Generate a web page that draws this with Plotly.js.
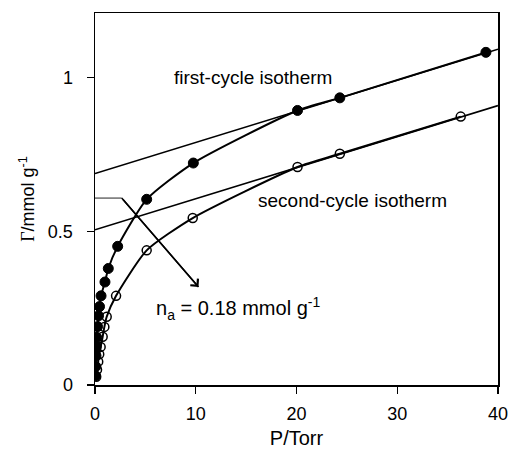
<!DOCTYPE html>
<html>
<head>
<meta charset="utf-8">
<script src="https://cdn.plot.ly/plotly-3.0.1.min.js"></script>
<style>html,body{margin:0;padding:0;background:#fff;}#chart{width:509px;height:452px;}</style>
</head>
<body>
<div id="chart"></div>
<script>
// First-cycle isotherm (filled circles)
var firstP = [0.05, 0.08, 0.1, 0.13, 0.17, 0.25, 0.35, 0.45, 0.6, 0.99, 1.32, 2.25, 5.13, 9.76, 20.1, 24.3, 38.8];
var firstG = [0.03, 0.06, 0.095, 0.125, 0.155, 0.19, 0.225, 0.255, 0.29, 0.335, 0.379, 0.451, 0.604, 0.722, 0.893, 0.934, 1.082];
// Second-cycle isotherm (open circles)
var secondP = [0.12, 0.2, 0.32, 0.42, 0.56, 0.76, 0.93, 1.16, 2.09, 5.13, 9.7, 20.1, 24.3, 36.3];
var secondG = [0.027, 0.05, 0.076, 0.1, 0.124, 0.157, 0.189, 0.222, 0.29, 0.438, 0.543, 0.709, 0.752, 0.873];
// Linear fits of the high-pressure region [first, second]
var fitIntercepts = [0.688, 0.505];
var fitSlopes = [0.0101, 0.0101];
var fitRange = [0, 40];
// Bracket and arrow marking n_a
var bracketP = [0, 2.65];
var bracketG = [0.608, 0.608];
var arrowTip = [10.27, 0.319];
var labelText = ['first-cycle isotherm', 'second-cycle isotherm', 'n<sub>a</sub> = 0.18 mmol g<sup>-1</sup>'];
var labelP = [15.7, 25.6, 14.2];
var labelG = [0.999, 0.600, 0.250];
var xTicks = [0, 10, 20, 30, 40];
var yTicks = [0, 0.5, 1];
var yTickText = ['0', '0.5', '1'];

var FONT = 'Liberation Sans, Arial, sans-serif';
var labelSizes = [19, 19, 20];

function fitLine(i) {
  return fitRange.map(function (p) { return fitIntercepts[i] + fitSlopes[i] * p; });
}

var traces = [
  {x: fitRange, y: fitLine(0), mode: 'lines', line: {color: '#000', width: 1.6}, hoverinfo: 'skip'},
  {x: fitRange, y: fitLine(1), mode: 'lines', line: {color: '#000', width: 1.6}, hoverinfo: 'skip'},
  {x: bracketP, y: bracketG, mode: 'lines', line: {color: '#555', width: 1.3}, hoverinfo: 'skip'},
  {x: [bracketP[1], arrowTip[0]], y: [bracketG[1], arrowTip[1]], mode: 'lines', line: {color: '#000', width: 1.5}, hoverinfo: 'skip'},
  {x: firstP, y: firstG, mode: 'lines+markers', line: {color: '#000', width: 2, shape: 'spline', smoothing: 0.6},
   marker: {symbol: 'circle', size: 10, color: '#000', line: {color: '#000', width: 1}}},
  {x: secondP, y: secondG, mode: 'lines+markers', line: {color: '#000', width: 2, shape: 'spline', smoothing: 0.6},
   marker: {symbol: 'circle-open', size: 9, color: '#000', line: {color: '#000', width: 1.5}}}
];

var annotations = [];
for (var i = 0; i < labelText.length; i++) {
  annotations.push({x: labelP[i], y: labelG[i], xref: 'x', yref: 'y', text: labelText[i], showarrow: false,
    font: {family: FONT, size: labelSizes[i], color: '#000'}, xanchor: 'center', yanchor: 'middle'});
}
annotations.push({x: arrowTip[0], y: arrowTip[1], ax: bracketP[1], ay: bracketG[1], xref: 'x', yref: 'y', axref: 'x', ayref: 'y',
  text: '', showarrow: true, arrowhead: 4, arrowsize: 1.3, arrowwidth: 1.5, arrowcolor: '#000', standoff: 0});

var layout = {
  width: 509, height: 452,
  margin: {l: 95, r: 11, t: 13, b: 67},
  paper_bgcolor: '#fff', plot_bgcolor: '#fff',
  showlegend: false,
  font: {family: FONT, size: 18, color: '#000'},
  xaxis: {
    range: [0, 40], tickvals: xTicks, ticktext: xTicks.map(String),
    ticks: 'outside', ticklen: 7, tickwidth: 1.2, tickcolor: '#000', ticklabelstandoff: 5,
    showline: true, linecolor: '#000', linewidth: 1.5, mirror: true,
    showgrid: false, zeroline: false,
    tickfont: {family: FONT, size: 18},
    title: {text: 'P/Torr', font: {family: FONT, size: 20}, standoff: 8}
  },
  yaxis: {
    range: [0, 1.21], tickvals: yTicks, ticktext: yTickText,
    ticks: 'outside', ticklen: 7, tickwidth: 1.2, tickcolor: '#000', ticklabelstandoff: 10,
    showline: true, linecolor: '#000', linewidth: 1.5, mirror: true,
    showgrid: false, zeroline: false,
    tickfont: {family: FONT, size: 18},
    title: {text: '<span style="font-family:Liberation Serif, Times New Roman, serif">Γ</span>/mmol g<sup>-1</sup>', font: {family: FONT, size: 18}, standoff: 8}
  },
  annotations: annotations
};

Plotly.newPlot('chart', traces, layout, {displayModeBar: false, staticPlot: true});
</script>
</body>
</html>
